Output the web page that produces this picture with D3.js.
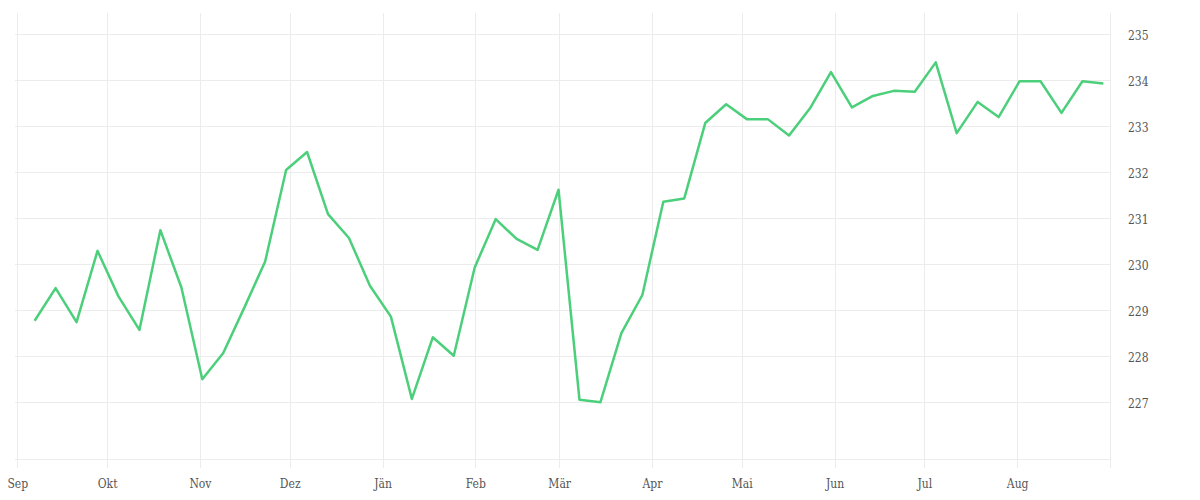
<html>
<head>
  <script src="https://d3js.org/d3.v7.min.js"></script>
  <style>
    body {
      margin: 0;
      background-color: #fff;
    }
    .grid line, .grid path {
      stroke: #ececec;
      stroke-width: 1px;
      shape-rendering: crispEdges;
    }
    .line {
      fill: none;
      stroke: #4ccf7b;
      stroke-width: 2.5px;
      stroke-linejoin: round;
    }
    .axis text {
      font-family: "DejaVu Serif Condensed", "DejaVu Serif", serif;
      font-stretch: condensed;
      font-size: 12px;
      fill: #555;
    }
    .axis .domain, .axis line {
      display: none;
    }
  </style>
</head>
<body>
  <svg width="1200" height="500"></svg>

  <script>
    // weekly readings
    var dates = [
      "2022-09-06 19", "2022-09-13 19", "2022-09-20 19", "2022-09-27 19",
      "2022-10-04 19", "2022-10-11 19", "2022-10-18 19", "2022-10-25 19",
      "2022-11-01 19", "2022-11-08 19", "2022-11-15 19", "2022-11-22 19", "2022-11-29 19",
      "2022-12-06 19", "2022-12-13 19", "2022-12-20 19", "2022-12-27 19",
      "2023-01-03 19", "2023-01-10 19", "2023-01-17 19", "2023-01-24 19",
      "2023-01-31 19", "2023-02-07 19", "2023-02-14 19", "2023-02-21 19",
      "2023-02-28 19", "2023-03-07 19", "2023-03-14 19", "2023-03-21 19", "2023-03-28 19",
      "2023-04-04 19", "2023-04-11 19", "2023-04-18 19", "2023-04-25 19",
      "2023-05-02 19", "2023-05-09 19", "2023-05-16 19", "2023-05-23 19", "2023-05-30 19",
      "2023-06-06 19", "2023-06-13 19", "2023-06-20 19", "2023-06-27 19",
      "2023-07-04 19", "2023-07-11 19", "2023-07-18 19", "2023-07-25 19",
      "2023-08-01 19", "2023-08-08 19", "2023-08-15 19", "2023-08-22 19", "2023-08-29 19"
    ];

    var values = [
      228.77, 229.48, 228.74, 230.29, 229.30, 228.57, 230.74, 229.50,
      227.50, 228.07, 229.05, 230.06, 232.05, 232.44, 231.09, 230.57,
      229.53, 228.86, 227.07, 228.41, 228.01, 229.93, 230.98, 230.55,
      230.31, 231.62, 227.05, 227.00, 228.50, 229.33, 231.36, 231.43,
      233.07, 233.48, 233.15, 233.15, 232.80, 233.39, 234.18, 233.41,
      233.66, 233.77, 233.75, 234.39, 232.85, 233.53, 233.20, 233.98,
      233.98, 233.29, 233.98, 233.93
    ];

    var monthLabels = ["Jän", "Feb", "Mär", "Apr", "Mai", "Jun",
                       "Jul", "Aug", "Sep", "Okt", "Nov", "Dez"];

    var yTicks = [227, 228, 229, 230, 231, 232, 233, 234, 235];

    var parse = d3.timeParse("%Y-%m-%d %H");
    var data = dates.map(function(d, i) {
      return {time: parse(d), value: values[i]};
    });

    var svg = d3.select("svg"),
        plotLeft = 17.3, plotRight = 1110,
        plotTop = 12.7, plotBottom = 458.7;

    var x = d3.scaleTime()
        .domain([new Date(2022, 8, 1), new Date(2023, 8, 1)])
        .range([plotLeft, plotRight]);

    var y = d3.scaleLinear()
        .domain([225.77, 235.47])
        .range([plotBottom, plotTop]);

    var months = x.ticks(d3.timeMonth.every(1));

    // grid
    var grid = svg.append("g").attr("class", "grid");

    grid.selectAll(".hline")
        .data(yTicks)
      .enter().append("line")
        .attr("x1", 15)
        .attr("x2", plotRight)
        .attr("y1", function(d) { return Math.round(y(d)) + 0.5; })
        .attr("y2", function(d) { return Math.round(y(d)) + 0.5; });

    grid.append("line")
        .attr("x1", 15)
        .attr("x2", plotRight)
        .attr("y1", Math.round(plotBottom) + 0.5)
        .attr("y2", Math.round(plotBottom) + 0.5);

    grid.selectAll(".vline")
        .data(months)
      .enter().append("line")
        .attr("x1", function(d) { return Math.round(x(d)) + 0.5; })
        .attr("x2", function(d) { return Math.round(x(d)) + 0.5; })
        .attr("y1", plotTop)
        .attr("y2", 468);

    // axes
    svg.append("g")
        .attr("class", "axis axis--x")
        .attr("transform", "translate(0," + plotBottom + ")")
        .call(d3.axisBottom(x)
          .tickValues(months.slice(0, 12))
          .tickSize(0)
          .tickPadding(21)
          .tickFormat(function(d) { return monthLabels[d.getMonth()]; }));

    svg.append("g")
        .attr("class", "axis axis--y")
        .attr("transform", "translate(" + plotRight + ",1.5)")
        .call(d3.axisRight(y)
          .tickValues(yTicks)
          .tickSize(0)
          .tickPadding(18)
          .tickFormat(d3.format("d")));

    var line = d3.line()
        .x(function(d) { return x(d.time); })
        .y(function(d) { return y(d.value); });

    svg.append("path")
        .datum(data)
        .attr("class", "line")
        .attr("d", line);
  </script>
</body>
</html>
